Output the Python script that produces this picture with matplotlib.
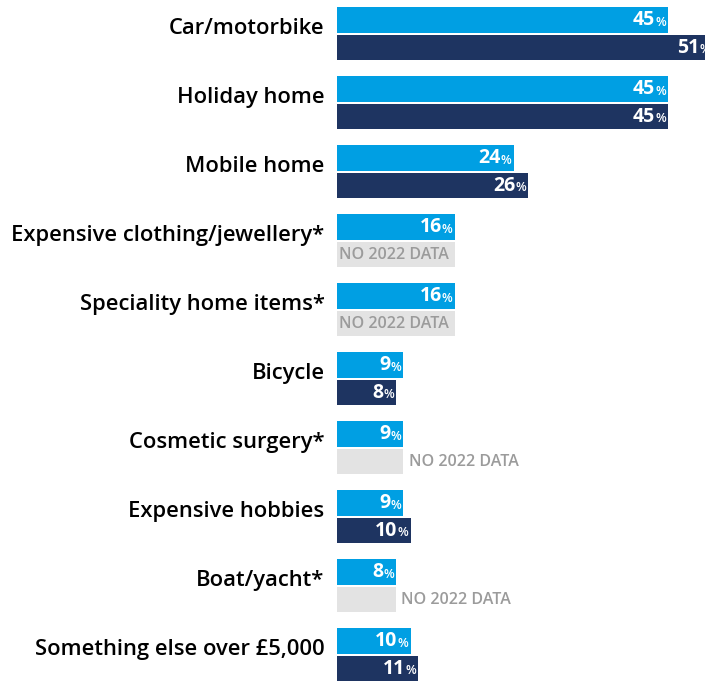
import matplotlib.pyplot as plt
import numpy as np

categories = ["Car/motorbike", "Holiday home", "Mobile home",
              "Expensive clothing/jewellery*", "Speciality home items*",
              "Bicycle", "Cosmetic surgery*", "Expensive hobbies",
              "Boat/yacht*", "Something else over £5,000"]
vals_2023 = [45, 45, 24, 16, 16, 9, 9, 9, 8, 10]
vals_2022 = [51, 45, 26, None, None, 8, None, 10, None, 11]

LIGHT = "#009fe3"
NAVY = "#1e3461"
GREY = "#e3e3e3"
GREY_TXT = "#9b9b9b"

plt.rcParams['font.family'] = ['Open Sans', 'DejaVu Sans']

fig = plt.figure(figsize=(7.05, 6.82), dpi=100)
ax = fig.add_axes([337 / 705, 0, 1 - 337 / 705, 1])
ax.set_xlim(0, 50)
ax.set_ylim(9.395, -0.489)
ax.axis('off')

y = np.arange(len(categories))
h = 0.375
off = 0.2


def value_label(x, yy):
    # number plus a smaller percent sign, right-aligned inside the bar end
    ax.annotate("%", (x, yy), xytext=(-1.5, -1.5), textcoords="offset points",
                ha="right", va="center", color="white", fontsize=9,
                fontweight="semibold", annotation_clip=False)
    ax.annotate(str(x), (x, yy), xytext=(-9.3, 0), textcoords="offset points",
                ha="right", va="center", color="white", fontsize=14,
                fontweight="bold", annotation_clip=False)


for i, cat in enumerate(categories):
    v23 = vals_2023[i]
    v22 = vals_2022[i]
    ax.barh(y[i] - off, v23, height=h, color=LIGHT)
    value_label(v23, y[i] - off)
    if v22 is None:
        ax.barh(y[i] + off, v23, height=h, color=GREY)
        if v23 >= 15:
            ax.annotate("NO 2022 DATA", (0, y[i] + off), xytext=(1.5, 0),
                        textcoords="offset points", ha="left", va="center",
                        color=GREY_TXT, fontsize=11.5, fontweight="semibold")
        else:
            ax.annotate("NO 2022 DATA", (v23, y[i] + off), xytext=(4, 0),
                        textcoords="offset points", ha="left", va="center",
                        color=GREY_TXT, fontsize=11.5, fontweight="semibold")
    else:
        ax.barh(y[i] + off, v22, height=h, color=NAVY)
        value_label(v22, y[i] + off)
    ax.annotate(cat, (0, y[i] - 0.07), xytext=(-9, 0), textcoords="offset points",
                ha="right", va="center", color="black", fontsize=15.8,
                fontweight="semibold", annotation_clip=False)

fig.savefig("out.png", dpi=100)
